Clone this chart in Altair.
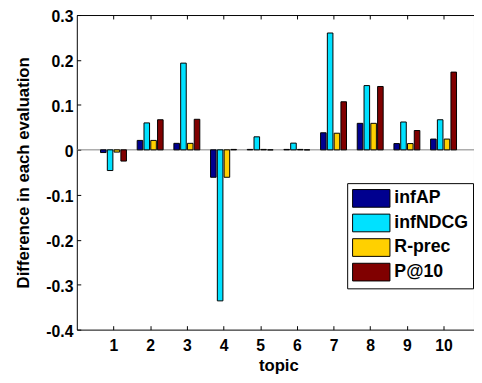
import altair as alt
import pandas as pd

topics = [1, 2, 3, 4, 5, 6, 7, 8, 9, 10]
series = ["infAP", "infNDCG", "R-prec", "P@10"]
infAP = [-0.006, 0.021, 0.0145, -0.061, 0.001, 0.001, 0.038, 0.059, 0.014, 0.024]
infNDCG = [-0.046, 0.060, 0.193, -0.336, 0.029, 0.015, 0.260, 0.143, 0.062, 0.067]
rprec = [-0.005, 0.021, 0.0145, -0.061, 0.001, 0.001, 0.037, 0.059, 0.014, 0.024]
p10 = [-0.025, 0.067, 0.068, 0.001, 0.0, 0.0, 0.107, 0.141, 0.043, 0.173]
colors = ["#00008F", "#00E1FF", "#FFD000", "#800000"]
y_ticks = [-0.4, -0.3, -0.2, -0.1, 0.0, 0.1, 0.2, 0.3]

rows = []
for si, (name, vals) in enumerate(zip(series, [infAP, infNDCG, rprec, p10])):
    for t, v in zip(topics, vals):
        rows.append({"topic": t, "metric": name, "idx": si, "value": v, "base": 0.0})
df = pd.DataFrame(rows)

FONT = "Liberation Sans"
xscale = alt.Scale(domain=[0, 10.83], nice=False, zero=False)
yscale = alt.Scale(domain=[-0.4, 0.3], nice=False, zero=False)

yaxis = alt.Axis(
    orient="left", values=y_ticks, offset=-4, domain=False, ticks=True,
    tickSize=4, tickColor="black", labelPadding=4, labelOffset=2, grid=False,
    labelExpr="datum.value == 0 ? '0' : replace(format(datum.value, '.1f'), '\u2212', '-')",
    title="Difference in each evaluation", titlePadding=14,
)

baseline = alt.Chart(pd.DataFrame({"zero": [0.0]})).mark_rule(
    color="#808080", strokeWidth=1
).encode(y=alt.Y("zero:Q", scale=yscale, axis=yaxis))

bars = alt.Chart(df).transform_calculate(
    xa="datum.topic + (datum.idx - 1.5) * 0.185 - 0.076",
    xb="datum.topic + (datum.idx - 1.5) * 0.185 + 0.076",
).mark_rect(stroke="black", strokeWidth=1, clip=True).encode(
    x=alt.X("xa:Q", scale=xscale, axis=alt.Axis(
        orient="bottom", values=topics, format="d", offset=-4, domain=False,
        ticks=True, tickSize=4, tickColor="black", labelPadding=8, grid=False,
        title="topic", titlePadding=5, titleX=205,
    )),
    x2="xb:Q",
    y=alt.Y("value:Q", scale=yscale, axis=yaxis),
    y2="base:Q",
    color=alt.Color("metric:N", scale=alt.Scale(domain=series, range=colors),
                    legend=alt.Legend(
                        orient="none", legendX=275, legendY=171, title=None,
                        strokeColor="black", fillColor="white", padding=5,
                        symbolType="M-1,-0.9L2.8,-0.9L2.8,0.9L-1,0.9Z",
                        symbolSize=400, symbolStrokeColor="black",
                        symbolStrokeWidth=1, symbolOpacity=1,
                        labelFont=FONT, labelFontWeight="bold", labelFontSize=18,
                        labelOffset=22, rowPadding=2, labelColor="black",
                    )),
)

topaxis = alt.Chart(pd.DataFrame({"t": topics})).mark_point(opacity=0).encode(
    x=alt.X("t:Q", scale=xscale, axis=alt.Axis(
        orient="top", values=topics, offset=-4, domain=False, labels=False,
        ticks=True, tickSize=4, tickColor="black", grid=False, title=None,
    ))
)

chart = alt.layer(baseline, bars, topaxis).resolve_axis(x="independent").properties(
    width=404, height=320,
    autosize=alt.AutoSizeParams(type="none"),
    padding={"left": 70, "top": 4, "right": 0, "bottom": 43},
).configure_view(stroke="black", strokeWidth=1).configure_axis(
    labelFont=FONT, labelFontWeight="bold", labelFontSize=16, labelColor="black",
    titleFont=FONT, titleFontWeight="bold", titleFontSize=17, titleColor="black",
)

chart.save("out.html", embed_options={"renderer": "svg", "actions": False})
